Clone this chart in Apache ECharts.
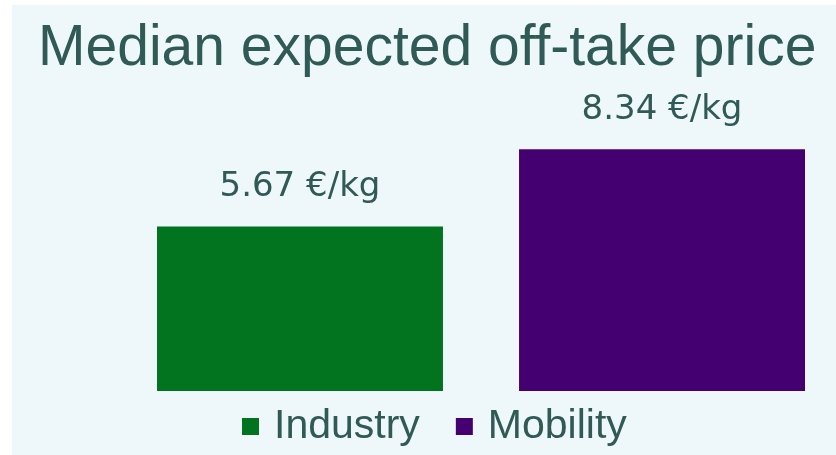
<!DOCTYPE html>
<html>
<head>
<meta charset="utf-8">
<script src="https://cdn.jsdelivr.net/npm/echarts@6/dist/echarts.min.js"></script>
<style>
    html, body { margin: 0; padding: 0; background: #ffffff; }
    #chart_01 { position: absolute; left: 12px; top: 5px; width: 824px; height: 450px; }
</style>
</head>
<body>
<div id="chart_01"></div>
<script>
var chartTitle = 'Median expected off-take price';
var categories = ['Median'];
var seriesNames = ['Industry', 'Mobility'];
var industryValues = [5.67];
var mobilityValues = [8.34];
var unit = ' €/kg';

var chart1;

function setChart1() {
    var dom = document.getElementById("chart_01");
    chart1 = echarts.init(dom);
    var textColor = '#2f5a55';
    var label = {
        show: true,
        position: 'top',
        distance: 22,
        color: textColor,
        fontFamily: 'DejaVu Sans',
        fontSize: 34,
        formatter: function (p) { return p.value.toFixed(2) + unit; }
    };
    var option = {
        backgroundColor: '#eef7f9',
        title: {
            text: chartTitle,
            left: 21,
            top: 11,
            textStyle: {
                color: textColor,
                fontFamily: 'Liberation Sans',
                fontWeight: 'normal',
                fontSize: 57
            }
        },
        legend: {
            data: seriesNames,
            left: 225,
            top: 396,
            icon: 'rect',
            itemWidth: 17,
            itemHeight: 17,
            itemGap: 36,
            textStyle: {
                color: textColor,
                fontFamily: 'Liberation Sans',
                fontSize: 41,
                padding: [0, 0, 0, 10]
            }
        },
        grid: {
            left: 145,
            right: 31,
            top: 96,
            bottom: 64
        },
        xAxis: {
            type: 'category',
            data: categories,
            show: false
        },
        yAxis: {
            type: 'value',
            min: 0,
            max: 10,
            show: false
        },
        series: [{
            name: seriesNames[0],
            type: 'bar',
            data: industryValues,
            barCategoryGap: '0%',
            barGap: '26.6%',
            itemStyle: { color: '#02731f' },
            label: label
        }, {
            name: seriesNames[1],
            type: 'bar',
            data: mobilityValues,
            barCategoryGap: '0%',
            barGap: '26.6%',
            itemStyle: { color: '#440070' },
            label: label
        }]
    };
    chart1.setOption(option, true);
}

window.onresize = function () {
    chart1 && chart1.resize();
}
setChart1();
</script>
</body>
</html>
